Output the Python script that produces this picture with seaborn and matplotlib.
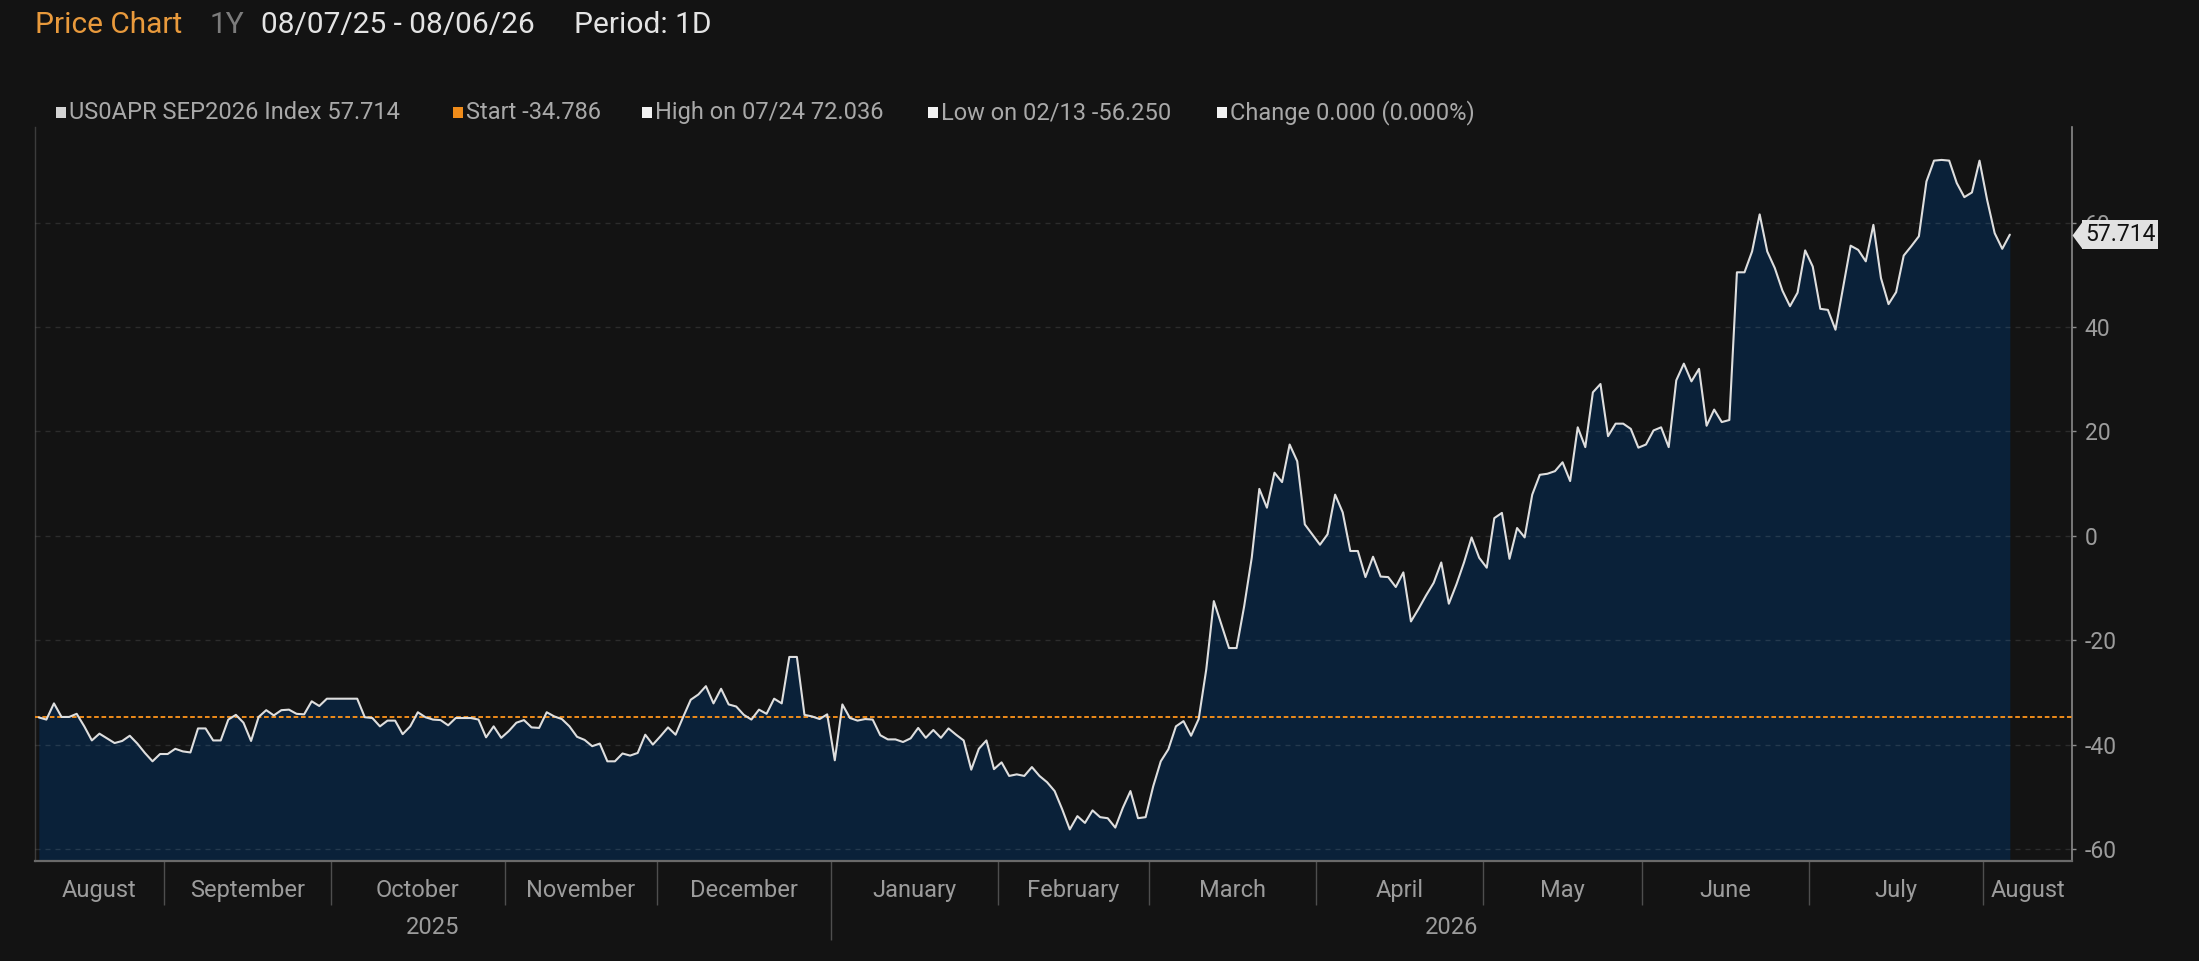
import numpy as np
import pandas as pd
import matplotlib
matplotlib.use("Agg")
import matplotlib.pyplot as plt
import matplotlib.transforms as mtransforms
from matplotlib.patches import Rectangle
import seaborn as sns

# ---------------- data ----------------
start_date = "2025-08-07"
end_date = "2026-08-06"

values_aug25 = [-34.786, -35.2, -32.1, -34.7, -34.7, -34.1, -36.5, -39.2, -37.9, -38.8,
                -39.7, -39.3, -38.3, -39.8, -41.6, -43.2, -41.8]
values_sep25 = [-41.8, -40.8, -41.3, -41.5, -36.9, -36.9, -39.2, -39.2, -35.2, -34.3,
                -35.8, -39.3, -34.7, -33.4, -34.4, -33.4, -33.3, -34.1, -34.2, -31.7,
                -32.6, -31.2]
values_oct25 = [-31.2, -31.2, -31.2, -31.2, -34.75, -34.9, -36.5, -35.4, -35.4, -38.0,
                -36.5, -33.8, -34.75, -35.2, -35.3, -36.3, -34.9, -34.9, -34.9, -35.2,
                -38.6, -36.5, -38.7]
values_nov25 = [-37.4, -35.8, -35.3, -36.7, -36.8, -33.8, -34.6, -35.1, -36.5, -38.5,
                -39.1, -40.3, -39.8, -43.2, -43.2, -41.7, -42.1, -41.6, -38.1, -40.0]
values_dec25 = [-38.4, -36.7, -38.1, -34.7, -31.4, -30.4, -28.8, -32.1, -29.3, -32.3,
                -32.7, -34.3, -35.2, -33.3, -34.1, -31.2, -32.1, -23.2, -23.2, -34.3,
                -34.6, -35.1, -34.2]
values_jan26 = [-43.0, -32.3, -34.9, -35.4, -35.1, -35.2, -38.2, -39.0, -39.0, -39.5,
                -38.8, -36.8, -38.7, -37.2, -38.7, -36.9, -38.1, -39.2, -44.8, -40.8,
                -39.2, -44.7]
values_feb26 = [-43.4, -46.0, -45.7, -46.0, -44.3, -46.0, -47.2, -48.9, -52.4, -56.25,
                -53.7, -55.0, -52.6, -53.9, -54.1, -55.9, -52.1, -48.9, -54.1, -53.9]
values_mar26 = [-48.0, -43.2, -40.9, -36.5, -35.5, -38.3, -35.1, -25.6, -12.5, -17.0,
                -21.5, -21.5, -13.5, -4.2, 9.0, 5.4, 12.1, 10.3, 17.5, 14.3,
                2.2, 0.25]
values_apr26 = [-1.7, 0.3, 7.9, 4.5, -2.9, -2.9, -7.9, -4.0, -7.8, -7.9,
                -9.8, -7.0, -16.4, -14.0, -11.4, -9.0, -5.1, -13.0, -9.3, -5.1,
                -0.3, -4.2]
values_may26 = [-6.1, 3.4, 4.4, -4.4, 1.5, -0.3, 7.9, 11.7, 11.9, 12.4,
                14.1, 10.5, 20.8, 17.0, 27.5, 29.1, 19.1, 21.5, 21.5, 20.5,
                16.9]
values_jun26 = [17.5, 20.2, 20.8, 17.0, 29.8, 33.0, 29.6, 32.0, 21.1, 24.2,
                21.8, 22.2, 50.5, 50.5, 54.5, 61.6, 54.5, 51.3, 47.0, 44.0,
                46.6, 54.7]
values_jul26 = [51.6, 43.5, 43.3, 39.5, 47.6, 55.6, 54.8, 52.6, 59.6, 49.4,
                44.4, 46.7, 53.7, 55.5, 57.4, 67.9, 71.9, 72.036, 71.9, 67.6,
                64.9, 65.8, 71.9]
values_aug26 = [64.4, 58.0, 55.0, 57.714]

start_value = -34.786
last_value = 57.714

y_ticks = [-60, -40, -20, 0, 20, 40, 60]
y_tick_labels = ["-60", "-40", "-20", "0", "20", "40", "60"]
month_labels = ["August", "September", "October", "November", "December", "January",
                "February", "March", "April", "May", "June", "July", "August"]
year_labels = ["2025", "2026"]

title_parts = ["Price Chart", "1Y", "08/07/25 - 08/06/26", "Period: 1D"]
legend_labels = ["US0APR SEP2026 Index 57.714", "Start -34.786", "High on 07/24 72.036",
                 "Low on 02/13 -56.250", "Change 0.000 (0.000%)"]
tag_label = "57.714"

# ---------------- build series ----------------
values = (values_aug25 + values_sep25 + values_oct25 + values_nov25 + values_dec25 +
          values_jan26 + values_feb26 + values_mar26 + values_apr26 + values_may26 +
          values_jun26 + values_jul26 + values_aug26)
dates = pd.bdate_range(start_date, end_date)
n = len(dates)
df = pd.DataFrame({"idx": np.arange(n), "date": dates, "value": values[:n]})

# ---------------- style ----------------
sns.set_theme(style="dark")
plt.rcParams["font.family"] = ["Roboto", "DejaVu Sans"]
plt.rcParams["axes.unicode_minus"] = False

BG = "#131313"
FILL = "#0a2139"
LINE = "#dedede"
ORANGE = "#f08c1a"
TXT = "#9c9c9c"

W, H = 2199, 961
fig = plt.figure(figsize=(W / 100, H / 100), dpi=100)
fig.patch.set_facecolor(BG)

ax_left, ax_right, ax_top, ax_bottom = 35, 2072, 126.7, 861
ax_h = ax_bottom - ax_top
ax = fig.add_axes([ax_left / W, 1 - ax_bottom / H, (ax_right - ax_left) / W, ax_h / H])
ax.set_facecolor(BG)

y_min, y_max = -62.3, 78.4
x_pad = 8.2

ax.fill_between(df["idx"], df["value"], y_min, color=FILL, lw=0, zorder=2)
sns.lineplot(data=df, x="idx", y="value", ax=ax, color=LINE, lw=1.5, zorder=4,
             estimator=None)
ax.axhline(start_value, color=ORANGE, lw=1.4, ls=(0, (2.4, 1.4)), zorder=3)

ax.set_xlim(-0.5, n - 1 + x_pad)
ax.set_ylim(y_min, y_max)
ax.set_xlabel("")
ax.set_ylabel("")

# y axis on right
ax.yaxis.tick_right()
ax.set_yticks(y_ticks)
ax.set_yticklabels(y_tick_labels)
ax.tick_params(axis="y", colors="#8c8c8c", labelcolor=TXT, labelsize=16.5, length=3,
               width=1, pad=6, right=True, left=False)
ax.tick_params(axis="x", bottom=False, labelbottom=False)
ax.set_axisbelow(False)
ax.grid(axis="y", color="white", alpha=0.11, lw=1, ls=(0, (3.6, 3.6)))
ax.grid(axis="x", visible=False)

ax.spines["top"].set_visible(False)
ax.spines["right"].set_color("#8a8a8a")
ax.spines["right"].set_linewidth(1.2)
ax.spines["bottom"].set_color("#6a6a6a")
ax.spines["bottom"].set_linewidth(1.6)
ax.spines["left"].set_color("#3c3c3c")
ax.spines["left"].set_linewidth(1)

# month / year separators and labels
months = dates.to_period("M")
bounds = [i - 0.5 for i in range(1, n) if months[i] != months[i - 1]]
edges = [-0.5] + bounds + [n - 1 + x_pad]
year_bounds = [i - 0.5 for i in range(1, n) if dates[i].year != dates[i - 1].year]
xt = ax.get_xaxis_transform()
month_sep = [b for b in bounds if b not in year_bounds]
ax.vlines(month_sep, -(905 - ax_bottom) / ax_h, 0, transform=xt, colors="#4e4e4e",
          lw=1, clip_on=False)
ax.vlines(year_bounds, -(940 - ax_bottom) / ax_h, 0, transform=xt, colors="#4e4e4e",
          lw=1, clip_on=False)
for k, lab in enumerate(month_labels):
    c = (edges[k] + edges[k + 1]) / 2
    ax.text(c, -(897 - ax_bottom) / ax_h, lab, transform=xt, ha="center", va="baseline",
            color=TXT, fontsize=17, clip_on=False)
year_edges = [-0.5] + year_bounds + [n - 1 + x_pad]
for k, lab in enumerate(year_labels):
    c = (year_edges[k] + year_edges[k + 1]) / 2
    ax.text(c, -(934 - ax_bottom) / ax_h, lab, transform=xt, ha="center", va="baseline",
            color=TXT, fontsize=17, clip_on=False)

# last value tag
yt = mtransforms.blended_transform_factory(ax.transAxes, ax.transData)
ax.plot([1.0], [last_value], transform=yt, marker=[(0, 0), (1, -1.35), (1, 1.35)],
        ms=19.5, color="#e2e2e2", mec="none", clip_on=False, zorder=6)
ax.annotate(tag_label, xy=(1.0, last_value), xycoords=yt, xytext=(13, 0),
            textcoords="offset pixels", ha="left", va="center", fontsize=16.5,
            color="#111111", annotation_clip=False, zorder=7,
            bbox=dict(boxstyle="square,pad=0.12", fc="#e2e2e2", ec="none"))


def fx(x):
    return x / W


def fy(y):
    return 1 - y / H


# title row
title_x = [35, 210, 261, 574]
title_c = ["#e99a3c", "#7c7c7c", "#e4e4e4", "#e4e4e4"]
for t, x, c in zip(title_parts, title_x, title_c):
    fig.text(fx(x), fy(33.3), t, color=c, fontsize=21.5, ha="left", va="baseline")

# legend row
sq_x = [56, 453, 642, 928, 1217]
sq_c = ["#d4d4d4", ORANGE, "#f2f2f2", "#f2f2f2", "#f2f2f2"]
for lab, x, c in zip(legend_labels, sq_x, sq_c):
    fig.patches.append(Rectangle((fx(x), fy(117.5)), 10 / W, 10 / H,
                                 transform=fig.transFigure, fc=c, ec="none"))
    fig.text(fx(x + 13), fy(119.3), lab, color="#a9a9a9", fontsize=17, ha="left",
             va="baseline")

fig.savefig("out.png", dpi=100, facecolor=BG)
